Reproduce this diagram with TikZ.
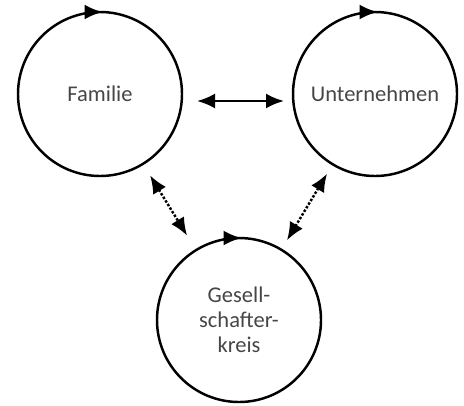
\documentclass[tikz,border=0pt]{standalone}
\usepackage{fontspec}
\setmainfont{Carlito}
\usepackage{tikz}
\usetikzlibrary{arrows.meta}
\definecolor{schrift}{RGB}{70,70,70}
\newcommand{\umlauf}[1]{\draw[pfeil] ([xshift=-3mm]#1.north) -- ([xshift=0.5mm]#1.north);}
\tikzset{
  kreis/.style={circle, draw, line width=1.4pt, minimum size=3.28cm, inner sep=0pt, outer sep=0pt,
    text=schrift, align=center, font=\fontsize{12.8}{14.3}\selectfont},
  pfeil/.style={line width=1.4pt, -{Latex[length=3.6mm,width=3.0mm]}},
  doppelpfeil/.style={line width=1.4pt, {Latex[length=3.6mm,width=3.0mm]}-{Latex[length=3.6mm,width=3.0mm]}},
}

\begin{document}
\begin{tikzpicture}
\useasboundingbox (0,0) rectangle (9.28,8.1);
\node[kreis] (fam) at (2.0,6.22) {Familie};
\node[kreis] (unt) at (7.5,6.22) {Unternehmen};
\node[kreis] (ges) at (4.78,1.7) {Gesell-\\schafter-\\kreis};
\foreach \k in {fam,unt,ges}{\umlauf{\k}}
\draw[doppelpfeil, shorten <=0.3cm, shorten >=0.18cm] ([yshift=-1.4mm]fam.east) -- ([yshift=-1.4mm]unt.west);
\draw[doppelpfeil, densely dotted, shorten <=0.27cm, shorten >=0.34cm] (fam) -- (ges);
\draw[doppelpfeil, densely dotted, shorten <=0.22cm, shorten >=0.22cm] (unt) -- (ges);
\end{tikzpicture}
\end{document}
